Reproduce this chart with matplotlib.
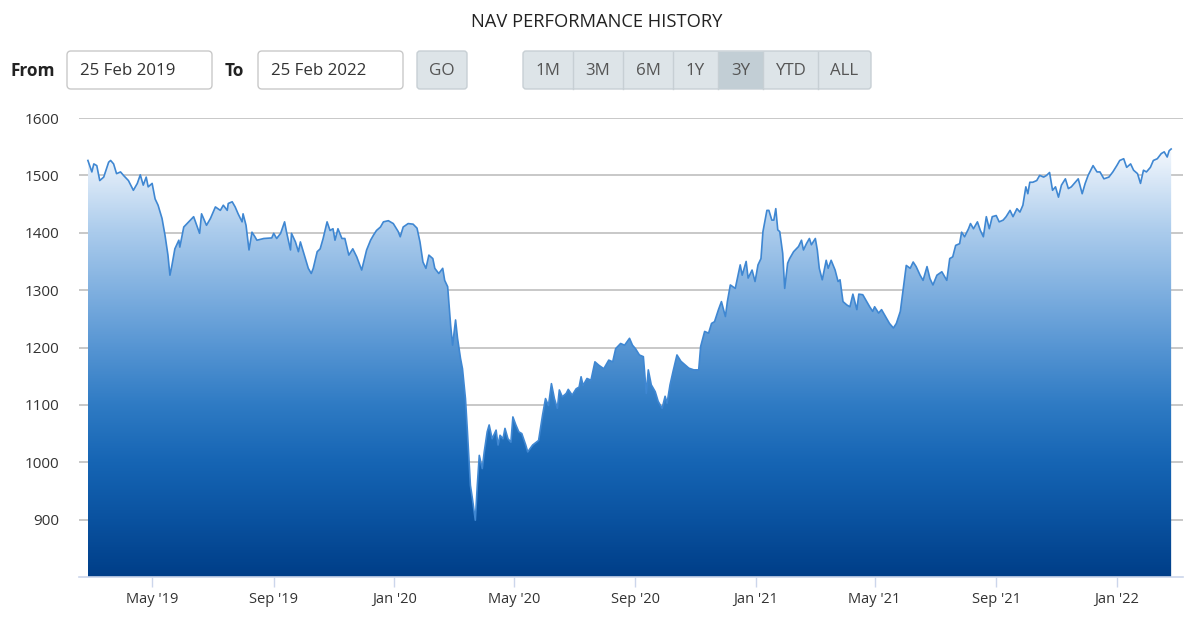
import numpy as np
import pandas as pd
import matplotlib
matplotlib.use("Agg")
import matplotlib.pyplot as plt
import matplotlib.dates as mdates
from matplotlib.colors import LinearSegmentedColormap
from matplotlib.patches import FancyBboxPatch, Rectangle

plt.rcParams["font.family"] = ["Open Sans", "DejaVu Sans"]

start_date = "2019-02-25"
end_date = "2022-02-25"

# days after 25 Feb 2019 and the NAV read at that day
days = [0, 4, 6, 9, 12, 16, 21, 23, 26, 29, 33, 36, 41, 46, 50, 53, 56, 59, 61, 65,
        68, 71, 75, 78, 81, 83, 85, 88, 92, 93, 97, 102, 107, 113, 115, 120, 124, 129,
        134, 137, 141, 142, 146, 149, 152, 156, 157, 160, 163, 166, 169, 171, 178, 186,
        188, 191, 195, 199, 201, 205, 206, 210, 213, 215, 220, 223, 226, 228, 232, 235,
        238, 242, 245, 248, 250, 253, 257, 260, 264, 268, 272, 277, 282, 286, 289, 292,
        296, 299, 304, 309, 314, 316, 319, 324, 329, 333, 336, 339, 342, 345, 349, 351,
        355, 359, 361, 364, 367, 369, 372, 374, 377, 379, 382, 384, 387, 389, 392, 394,
        396, 399, 401, 404, 406, 409, 413, 415, 417, 420, 422, 425, 428, 430, 433, 436,
        439, 443, 445, 450, 456, 460, 463, 466, 469, 472, 475, 477, 480, 484, 486, 490,
        494, 497, 499, 501, 505, 509, 513, 517, 522, 527, 531, 534, 539, 543, 548, 551,
        554, 558, 562, 565, 567, 570, 574, 577, 581, 584, 586, 589, 592, 596, 600, 604,
        608, 613, 618, 620, 624, 628, 631, 634, 638, 641, 645, 647, 650, 655, 660, 662,
        666, 668, 672, 675, 678, 681, 683, 687, 689, 692, 694, 696, 698, 700, 703, 705,
        708, 710, 714, 719, 722, 724, 727, 730, 732, 736, 738, 740, 743, 747, 749, 752,
        756, 759, 761, 764, 768, 771, 774, 778, 780, 784, 788, 791, 794, 796, 800, 803,
        806, 811, 815, 818, 822, 825, 828, 832, 835, 838, 842, 845, 849, 852, 855, 859,
        864, 869, 872, 875, 878, 882, 884, 887, 891, 893, 896, 900, 903, 906, 909, 912,
        915, 919, 922, 926, 929, 933, 936, 940, 943, 946, 949, 951, 953, 956, 960, 963,
        967, 970, 973, 976, 979, 982, 985, 989, 992, 995, 999, 1002, 1006, 1009, 1012,
        1017, 1021, 1024, 1028, 1033, 1037, 1041, 1044, 1048, 1051, 1055, 1058, 1062,
        1065, 1068, 1071, 1075, 1078, 1082, 1086, 1089, 1092, 1094, 1096]
nav = [1526, 1506, 1520, 1517, 1491, 1497, 1523, 1526, 1520, 1503, 1506, 1500, 1491, 1474,
       1486, 1501, 1483, 1497, 1480, 1486, 1459, 1448, 1425, 1396, 1361, 1326, 1343, 1372,
       1387, 1375, 1410, 1419, 1428, 1399, 1433, 1413, 1425, 1445, 1439, 1448, 1439, 1451,
       1454, 1445, 1433, 1419, 1433, 1413, 1370, 1401, 1393, 1387, 1390, 1391, 1399, 1390,
       1399, 1419, 1401, 1370, 1399, 1384, 1367, 1384, 1355, 1338, 1329, 1338, 1367, 1372,
       1390, 1419, 1404, 1407, 1387, 1407, 1390, 1390, 1361, 1372, 1358, 1335, 1370, 1387,
       1396, 1404, 1410, 1419, 1421, 1416, 1402, 1393, 1410, 1416, 1415, 1408, 1384, 1349,
       1338, 1361, 1355, 1338, 1329, 1338, 1317, 1306, 1239, 1204, 1248, 1216, 1181, 1163,
       1111, 1053, 960, 937, 899, 960, 1012, 989, 1018, 1053, 1065, 1041, 1056, 1030, 1047,
       1041, 1059, 1041, 1035, 1079, 1065, 1053, 1050, 1030, 1018, 1030, 1038, 1082, 1111,
       1099, 1137, 1111, 1094, 1126, 1114, 1120, 1127, 1117, 1128, 1131, 1149, 1134, 1146,
       1143, 1175, 1169, 1163, 1178, 1175, 1198, 1207, 1204, 1216, 1204, 1198, 1187, 1184,
       1120, 1161, 1135, 1123, 1106, 1094, 1115, 1103, 1135, 1158, 1187, 1176, 1170, 1164,
       1161, 1161, 1202, 1228, 1225, 1242, 1245, 1266, 1280, 1254, 1280, 1309, 1303, 1344,
       1326, 1350, 1321, 1335, 1315, 1344, 1355, 1402, 1439, 1439, 1422, 1422, 1442, 1405,
       1402, 1364, 1303, 1347, 1355, 1367, 1376, 1387, 1370, 1381, 1390, 1379, 1390, 1370,
       1338, 1318, 1352, 1338, 1352, 1335, 1315, 1318, 1280, 1274, 1271, 1293, 1266, 1293,
       1292, 1280, 1271, 1263, 1271, 1260, 1266, 1257, 1242, 1234, 1242, 1263, 1303, 1343,
       1338, 1349, 1341, 1326, 1317, 1341, 1320, 1309, 1326, 1332, 1317, 1355, 1358, 1378,
       1381, 1401, 1393, 1407, 1416, 1407, 1419, 1404, 1393, 1428, 1407, 1428, 1430, 1419,
       1422, 1428, 1439, 1428, 1442, 1436, 1448, 1480, 1468, 1488, 1488, 1491, 1500, 1497,
       1500, 1505, 1474, 1480, 1462, 1483, 1494, 1477, 1480, 1488, 1494, 1468, 1486, 1500,
       1517, 1506, 1506, 1494, 1497, 1506, 1517, 1526, 1529, 1514, 1520, 1509, 1503, 1486,
       1509, 1506, 1514, 1526, 1529, 1538, 1541, 1532, 1543, 1546]

y_ticks = [900, 1000, 1100, 1200, 1300, 1400, 1500, 1600]
range_buttons = ["1M", "3M", "6M", "1Y", "3Y", "YTD", "ALL"]
selected_range = "3Y"

dates = pd.Timestamp(start_date) + pd.to_timedelta(days, unit="D")
nav = np.array(nav, dtype=float)

fig = plt.figure(figsize=(12, 6.18), dpi=100)
W, H = 1200, 618

# ---- chart area ----
ax = fig.add_axes([79 / W, 1 - 577 / H, (1183 - 79) / W, (577 - 118) / H])
ax.set_facecolor("white")

line_color = "#3f87d2"
ax.plot(dates, nav, color=line_color, lw=1.2, zorder=3)
poly = ax.fill_between(dates, nav, 800, facecolor="none", edgecolor="none")

grad = LinearSegmentedColormap.from_list("nav", [
    (0.0, "#003e88"), (0.134, "#0a52a0"), (0.268, "#1665b4"), (0.402, "#2f7bc4"),
    (0.536, "#5695d3"), (0.670, "#80b0e0"), (0.804, "#aacbec"), (1.0, "#f4f8fd")])
x0 = mdates.date2num(dates[0])
x1 = mdates.date2num(dates[-1])
img = ax.imshow(np.linspace(0, 1, 256).reshape(-1, 1), cmap=grad, origin="lower",
                extent=[x0, x1, 800, nav.max()], aspect="auto", zorder=2)
img.set_clip_path(poly.get_paths()[0], transform=ax.transData)

ax.set_xlim(pd.Timestamp(start_date) - pd.Timedelta(days=9),
            pd.Timestamp(end_date) + pd.Timedelta(days=12))
ax.set_ylim(800, 1600)
ax.set_yticks(y_ticks)
ax.yaxis.grid(True, color="#c4c4c4", lw=1.3)
ax.set_axisbelow(True)
for s in ["left", "right", "top"]:
    ax.spines[s].set_visible(False)
ax.spines["bottom"].set_color("#ccd6eb")
ax.spines["bottom"].set_linewidth(1.2)
ax.spines["bottom"].set_zorder(4)

ax.xaxis.set_major_locator(mdates.MonthLocator(bymonth=[1, 5, 9]))
ax.xaxis.set_major_formatter(mdates.DateFormatter("%b '%y"))
ax.tick_params(axis="x", length=7, width=1, color="#ccd6eb", labelsize=10.5,
               labelcolor="#333333", pad=4)
ax.tick_params(axis="y", length=0, labelsize=11, labelcolor="#333333", pad=14)

# ---- header / controls ----
ui = fig.add_axes([0, 0, 1, 1], zorder=-1)
ui.set_xlim(0, W)
ui.set_ylim(H, 0)
ui.axis("off")
ui.patch.set_alpha(0)

fig.text(597 / W, 1 - 22 / H, "NAV PERFORMANCE HISTORY", ha="center", va="center",
         fontsize=13.2, color="#222222")

txt = dict(va="center", color="#333333", fontsize=12.2)
ui.text(10, 71, "From", fontweight="bold", fontsize=12.4, va="center", color="#222222")
ui.text(225, 71, "To", fontweight="bold", fontsize=12.4, va="center", color="#222222")
for bx, label in [(67, "25 Feb 2019"), (258, "25 Feb 2022")]:
    ui.add_patch(FancyBboxPatch((bx, 51), 145, 38, boxstyle="round,pad=0,rounding_size=4",
                                fc="white", ec="#c9c9c9", lw=1))
    ui.text(bx + 13, 71, label, **txt)

ui.add_patch(FancyBboxPatch((417, 51), 50, 38, boxstyle="round,pad=0,rounding_size=3",
                            fc="#dde4e8", ec="#c7cfd4", lw=1))
ui.text(442, 71, "GO", ha="center", va="center", color="#555555", fontsize=12.3)

edges = [523, 573, 623, 673, 718, 763, 818, 871]
ui.add_patch(FancyBboxPatch((edges[0], 51), edges[-1] - edges[0], 38,
                            boxstyle="round,pad=0,rounding_size=3",
                            fc="#dde4e8", ec="#c7cfd4", lw=1))
for i, label in enumerate(range_buttons):
    l, r = edges[i], edges[i + 1]
    if label == selected_range:
        ui.add_patch(Rectangle((l, 51.5), r - l, 37, fc="#c2ced5", ec="none"))
    if i > 0:
        ui.plot([l, l], [51.5, 88.5], color="#c7cfd4", lw=1)
    ui.text((l + r) / 2, 71, label, ha="center", va="center", color="#555555", fontsize=12.2)

fig.savefig("out.png", dpi=100)
